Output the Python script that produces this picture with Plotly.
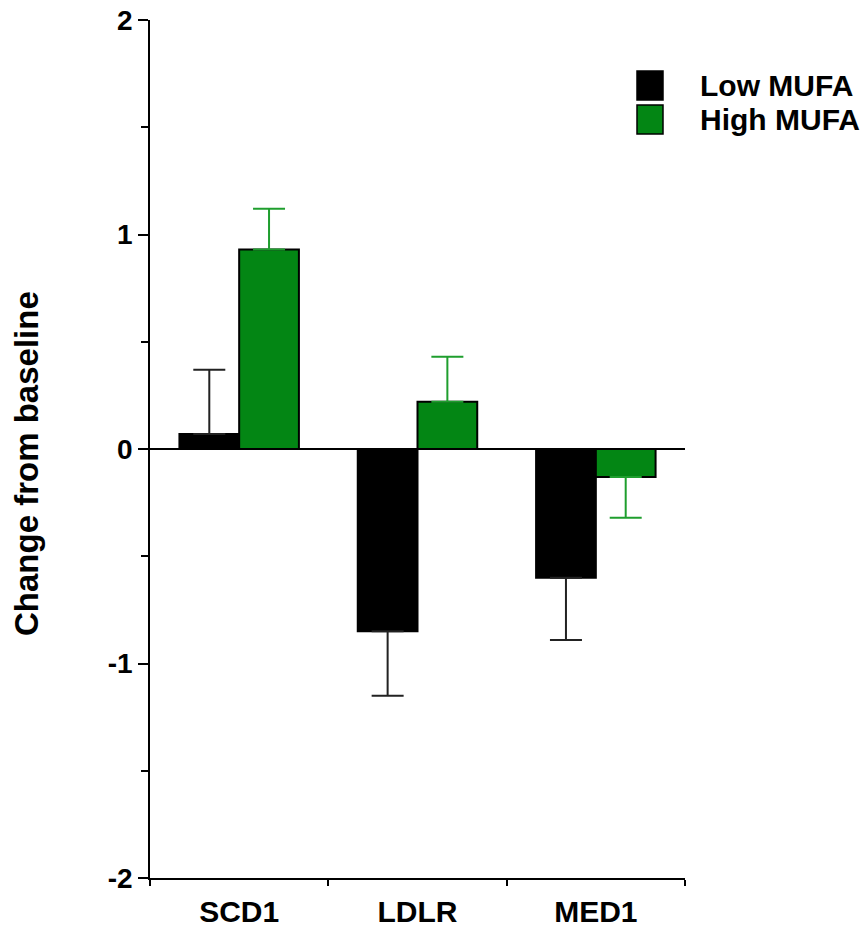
import plotly.graph_objects as go

genes = ["SCD1", "LDLR", "MED1"]
low_mufa = [0.07, -0.85, -0.60]
low_err = [0.30, 0.30, 0.29]
high_mufa = [0.93, 0.22, -0.13]
high_err = [0.19, 0.21, 0.19]
series_names = ["Low MUFA", "High MUFA"]
y_ticks = [-2, -1, 0, 1, 2]

BLACK = "#000000"
GREEN = "#038614"
GREEN_ERR = "#1f9e2e"
FONT = "Liberation Sans, Arial, sans-serif"


def one_sided(values, errs):
    # error bars point away from zero: upward for gains, downward for losses
    up = [e if v >= 0 else 0 for v, e in zip(values, errs)]
    down = [e if v < 0 else 0 for v, e in zip(values, errs)]
    return dict(type="data", symmetric=False, array=up, arrayminus=down,
                thickness=2, width=16)


fig = go.Figure()
fig.add_trace(go.Bar(
    x=genes, y=low_mufa, name=series_names[0],
    marker=dict(color=BLACK, line=dict(color=BLACK, width=2)),
    error_y=dict(**one_sided(low_mufa, low_err), color="#222222"),
    showlegend=False,
))
fig.add_trace(go.Bar(
    x=genes, y=high_mufa, name=series_names[1],
    marker=dict(color=GREEN, line=dict(color=BLACK, width=2)),
    error_y=dict(**one_sided(high_mufa, high_err), color=GREEN_ERR),
    showlegend=False,
))

# legend keys: filled squares with labels, top right
legend_items = [(series_names[0], BLACK), (series_names[1], GREEN)]
for i, (label, color) in enumerate(legend_items):
    y0 = 71 + i * 34
    fig.add_shape(type="rect", xref="paper", yref="paper",
                  x0=(637 - 150) / 535, x1=(663 - 150) / 535,
                  y0=(878 - (y0 + 29)) / 858, y1=(878 - y0) / 858,
                  fillcolor=color, line=dict(color=BLACK, width=1.5))
    fig.add_annotation(text=label, xref="paper", yref="paper",
                       x=(698 - 150) / 535, y=(878 - (y0 + 14)) / 858,
                       xanchor="left", yanchor="middle", showarrow=False,
                       font=dict(family=FONT, size=30, color=BLACK, weight="bold"))

# vertical axis title, set a little below the plot's mid-height
fig.add_annotation(text="Change from baseline", textangle=-90,
                   xref="paper", yref="paper",
                   x=(26 - 150) / 535, y=(878 - 464) / 858,
                   xanchor="center", yanchor="middle", showarrow=False,
                   font=dict(family=FONT, size=33, color=BLACK, weight="bold"))

fig.update_layout(
    width=866, height=930,
    margin=dict(l=150, r=181, t=20, b=52),
    plot_bgcolor="white", paper_bgcolor="white",
    barmode="group", bargap=0.33, bargroupgap=0,
    font=dict(family=FONT, color=BLACK, weight="bold"),
    xaxis=dict(
        range=[-0.5, 2.5], showline=True, linecolor=BLACK, linewidth=1.5,
        ticks="outside", tickson="boundaries", ticklen=6, tickcolor=BLACK,
        tickwidth=1.5, tickfont=dict(size=30, family=FONT, weight="bold"),
        ticklabelstandoff=6,
        showgrid=False, zeroline=False, automargin=False,
    ),
    yaxis=dict(
        range=[-2, 2], tickvals=y_ticks, ticktext=[str(v) for v in y_ticks],
        showline=True, linecolor=BLACK, linewidth=1.5,
        ticks="outside", ticklen=10, tickcolor=BLACK, tickwidth=1.5,
        minor=dict(dtick=0.5, ticks="outside", ticklen=7, tickcolor=BLACK,
                   tickwidth=1.5, showgrid=False),
        tickfont=dict(size=28, family=FONT, weight="bold"),
        showgrid=False, zeroline=True, zerolinecolor=BLACK, zerolinewidth=1.5,
        automargin=False,
    ),
)

fig.write_html("out.html")
